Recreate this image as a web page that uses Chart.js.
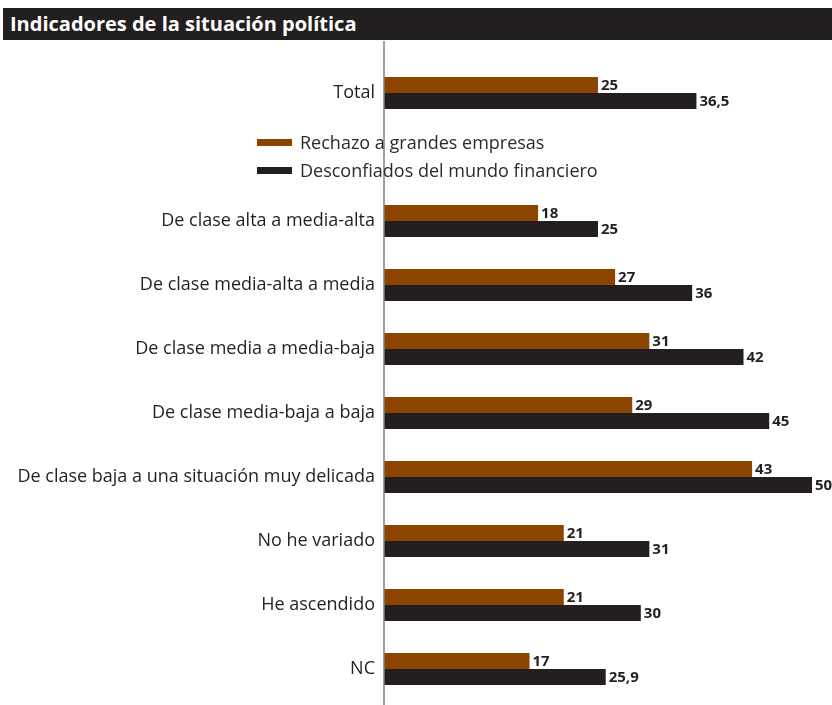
<!DOCTYPE html>
<html>
<head>
<meta charset="utf-8">
<script src="https://cdn.jsdelivr.net/npm/chart.js@4"></script>
<style>
body{margin:0;background:#fff;}
#wrap{position:relative;width:832px;height:705px;}
#title{position:absolute;left:3px;top:8px;width:822px;height:32px;background:#231f20;color:#fff;
font:bold 20px "Open Sans",sans-serif;line-height:32px;padding-left:7px;}
canvas{position:absolute;left:0;top:0;}
</style>
</head>
<body>
<div id="wrap">
<canvas id="chart" width="832" height="705"></canvas>
<div id="title">Indicadores de la situación política</div>
</div>
<script>
// data
let categories = ['Total', '', 'De clase alta a media-alta', 'De clase media-alta a media',
  'De clase media a media-baja', 'De clase media-baja a baja',
  'De clase baja a una situación muy delicada', 'No he variado', 'He ascendido', 'NC'];
let rechazo = [25, null, 18, 27, 31, 29, 43, 21, 21, 17];
let desconfiados = [36.5, null, 25, 36, 42, 45, 50, 31, 30, 25.9];
let seriesNames = ['Rechazo a grandes empresas', 'Desconfiados del mundo financiero'];

let orange = '#8b4500';
let dark = '#231f20';

// axis line + value labels + legend
let extras = {
  id: 'extras',
  afterDatasetsDraw(chart){
    let ctx = chart.ctx;
    let area = chart.chartArea;
    ctx.save();
    ctx.strokeStyle = '#808080';
    ctx.lineWidth = 1.5;
    ctx.beginPath();
    ctx.moveTo(area.left, 41);
    ctx.lineTo(area.left, 705);
    ctx.stroke();

    ctx.font = 'bold 15px "Open Sans", sans-serif';
    ctx.fillStyle = dark;
    ctx.textAlign = 'left';
    ctx.textBaseline = 'middle';
    chart.data.datasets.forEach(function(ds, i){
      chart.getDatasetMeta(i).data.forEach(function(bar, j){
        let v = ds.data[j];
        if(v === null) return;
        ctx.fillText(String(v).replace('.', ','), bar.x + 3, bar.y + 1);
      });
    });

    // legend in the empty slot
    let ys = [142.5, 170.5];
    ctx.font = '18px "Open Sans", sans-serif';
    chart.data.datasets.forEach(function(ds, i){
      ctx.fillStyle = ds.backgroundColor;
      ctx.fillRect(257, ys[i] - 3.5, 35, 7);
      ctx.fillStyle = '#2a2a2a';
      ctx.fillText(ds.label, 300, ys[i] + 1);
    });
    ctx.restore();
  }
};

new Chart(document.getElementById('chart'), {
  type: 'bar',
  data: {
    labels: categories,
    datasets: [
      {label: seriesNames[0], data: rechazo, backgroundColor: orange},
      {label: seriesNames[1], data: desconfiados, backgroundColor: dark}
    ]
  },
  options: {
    indexAxis: 'y',
    responsive: false,
    animation: false,
    categoryPercentage: 0.5,
    barPercentage: 1,
    layout: {padding: {top: 61, bottom: 4, right: 20, left: 0}},
    plugins: {legend: {display: false}, tooltip: {enabled: false}},
    scales: {
      x: {display: false, min: 0, max: 50},
      y: {
        afterFit: function(s){ s.width = 384; s.paddingTop = 0; s.paddingBottom = 0; },
        grid: {display: false, drawTicks: false},
        border: {display: false},
        ticks: {color: '#231f20', padding: 9, font: {family: '"Open Sans", sans-serif', size: 18}}
      }
    }
  },
  plugins: [extras]
});
</script>
</body>
</html>
